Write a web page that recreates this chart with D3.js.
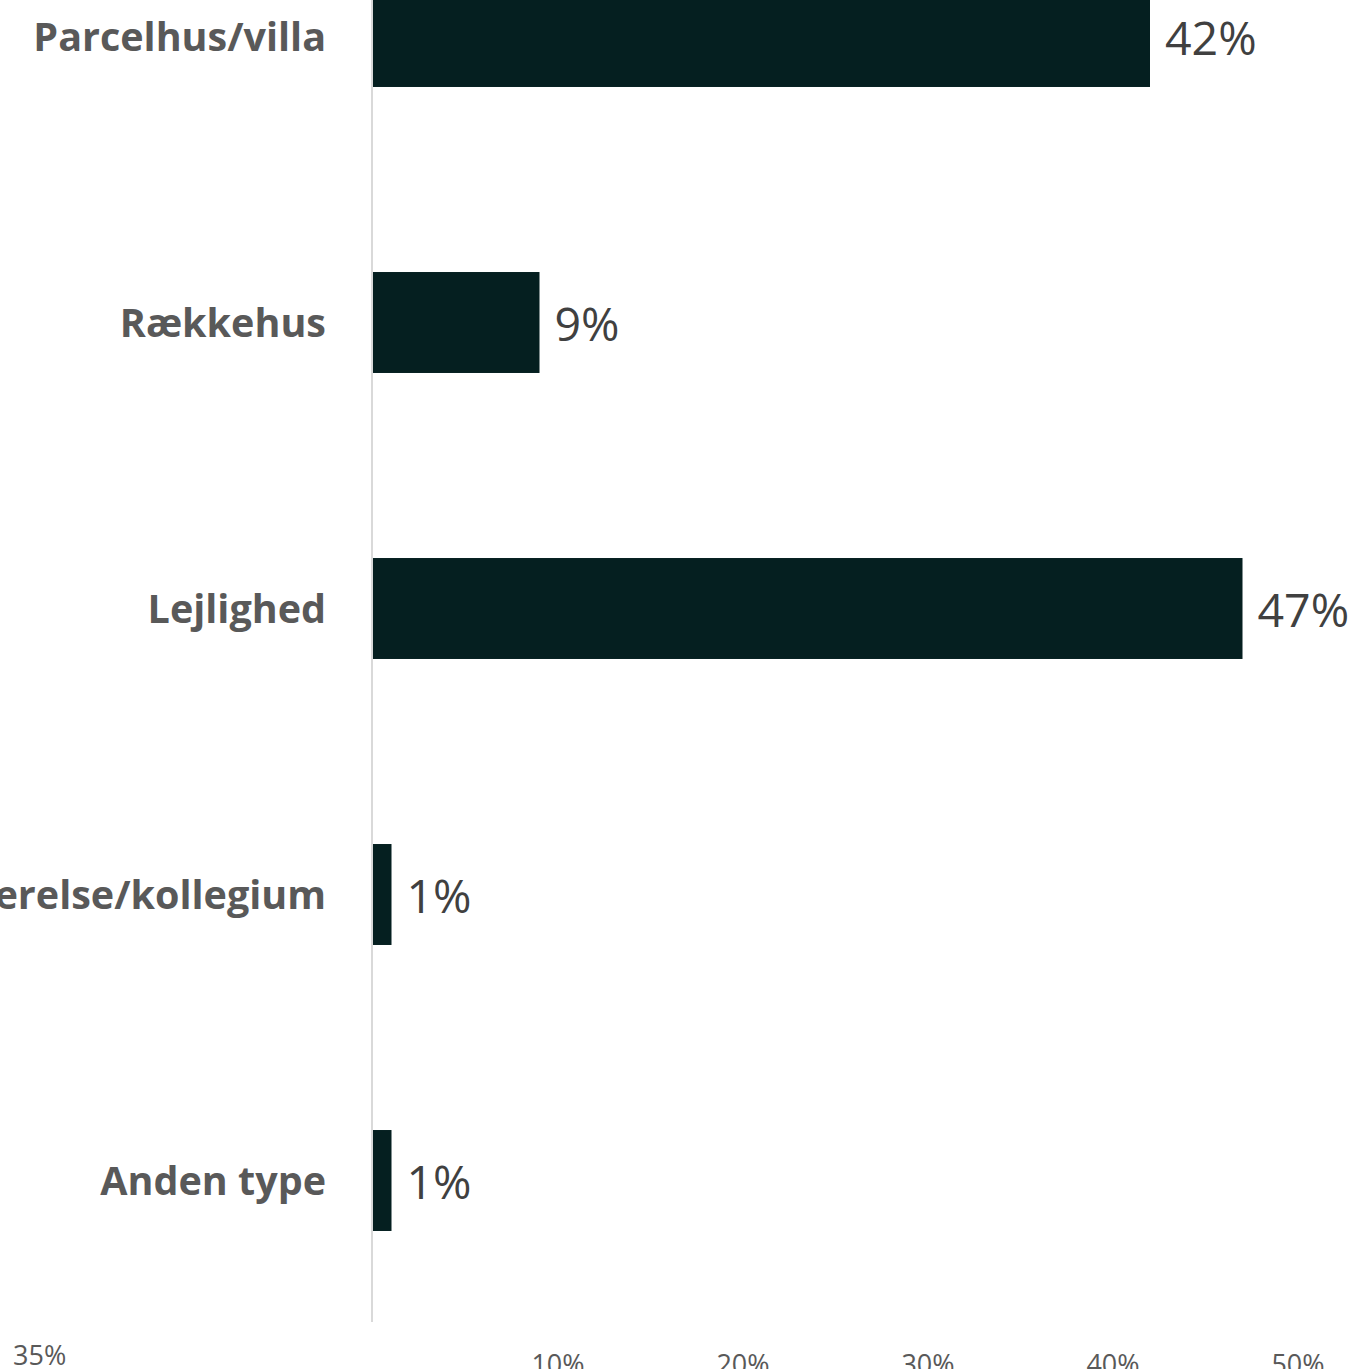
<!DOCTYPE html>
<html>
<head>
<meta charset="utf-8">
<script src="https://cdnjs.cloudflare.com/ajax/libs/d3/7.8.5/d3.min.js"></script>
<style>
  html, body { margin: 0; padding: 0; background: #fff; overflow: hidden; }
</style>
</head>
<body>
<div id="chart"></div>
<script>
// data
const categories = ["Parcelhus/villa", "Rækkehus", "Lejlighed", "Værelse/kollegium", "Anden type"];
const values = [42, 9, 47, 1, 1];
const xTicks = [10, 20, 30, 40, 50];
const strayLabel = "35%";

const width = 1358, height = 1369;
const font = "'Open Sans', 'Noto Sans', sans-serif";

const svg = d3.select("#chart").append("svg")
    .attr("width", width)
    .attr("height", height);

// x scale: 0% sits on the axis line
const x = d3.scaleLinear().domain([0, 50]).range([373, 1298]);

// y bands, first one partly above the top edge
const y = d3.scaleBand()
    .domain(categories)
    .range([-106.5, 1323.5])
    .paddingInner(0.647)
    .paddingOuter(0.3235);

// bars
svg.selectAll("rect.bar")
    .data(values)
    .enter().append("rect")
    .attr("class", "bar")
    .attr("x", x(0))
    .attr("y", (d, i) => y(categories[i]))
    .attr("width", d => x(d) - x(0))
    .attr("height", y.bandwidth())
    .attr("fill", "#051f20");

// vertical axis line
svg.append("line")
    .attr("x1", 372).attr("x2", 372)
    .attr("y1", 0).attr("y2", 1322)
    .attr("stroke", "#d9d9d9")
    .attr("stroke-width", 2);

// category labels
svg.selectAll("text.cat")
    .data(categories)
    .enter().append("text")
    .attr("class", "cat")
    .attr("x", 326)
    .attr("y", d => y(d) + y.bandwidth() / 2 + 14)
    .attr("text-anchor", "end")
    .attr("font-family", font)
    .attr("font-weight", "bold")
    .attr("font-size", 39.5)
    .attr("fill", "#595959")
    .text(d => d);

// value labels
svg.selectAll("text.val")
    .data(values)
    .enter().append("text")
    .attr("class", "val")
    .attr("x", d => x(d) + 15)
    .attr("y", (d, i) => y(categories[i]) + y.bandwidth() / 2 + 18)
    .attr("font-family", font)
    .attr("font-size", 46.5)
    .attr("fill", "#404040")
    .text(d => d + "%");

// x tick labels (cut by the bottom edge)
svg.selectAll("text.tick")
    .data(xTicks)
    .enter().append("text")
    .attr("class", "tick")
    .attr("x", d => x(d))
    .attr("y", 1374)
    .attr("text-anchor", "middle")
    .attr("font-family", font)
    .attr("font-size", 27)
    .attr("fill", "#595959")
    .text(d => d + "%");

svg.append("text")
    .attr("x", 13)
    .attr("y", 1365)
    .attr("font-family", font)
    .attr("font-size", 27)
    .attr("fill", "#595959")
    .text(strayLabel);
</script>
</body>
</html>
